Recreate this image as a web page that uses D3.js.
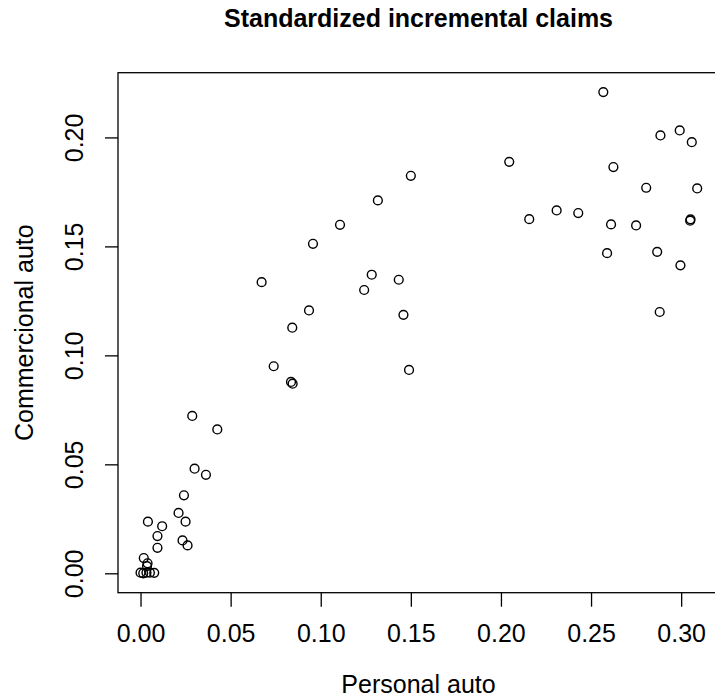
<!DOCTYPE html>
<html>
<head>
<meta charset="utf-8">
<script src="https://cdn.jsdelivr.net/npm/d3@7"></script>
<style>
  body { margin: 0; background: #fff; }
  svg { display: block; font-family: "Liberation Sans", Arial, sans-serif; }
</style>
</head>
<body>
<div id="chart_area"></div>
<script>
var width = 715
var height = 700

// plot region (box) and axis limits
var box = {left: 118, right: 719, top: 72.7, bottom: 592.7}
var xLim = [-0.0125, 0.321]
var yLim = [-0.0089, 0.2297]

// Data
var personalAuto = [
  0.1500, 0.1317, 0.1107, 0.0957, 0.0672, 0.1283, 0.1433, 0.1241, 0.0935, 0.0842,
  0.1459, 0.2568, 0.2885, 0.2992, 0.3059, 0.2046, 0.2624, 0.2806, 0.3089, 0.2157,
  0.2309, 0.2429, 0.2611, 0.2750, 0.3052, 0.3050, 0.2589, 0.2867, 0.2996, 0.2881,
  0.0739, 0.0835, 0.0844, 0.1490, 0.0287, 0.0426, 0.0300, 0.0363, 0.0241, 0.0211,
  0.0041, 0.0250, 0.0120, 0.0094, 0.0233, 0.0094, 0.0261, 0.0018, 0.0039, 0.0036,
  0.0000, 0.0015, 0.0033, 0.0052, 0.0076
]
var commercialAuto = [
  0.1824, 0.1711, 0.1599, 0.1512, 0.1336, 0.1370, 0.1347, 0.1300, 0.1206, 0.1127,
  0.1186, 0.2208, 0.2009, 0.2032, 0.1978, 0.1888, 0.1864, 0.1769, 0.1766, 0.1625,
  0.1665, 0.1653, 0.1601, 0.1596, 0.1624, 0.1618, 0.1469, 0.1475, 0.1413, 0.1199,
  0.0950, 0.0878, 0.0870, 0.0933, 0.0722, 0.0660, 0.0480, 0.0452, 0.0358, 0.0277,
  0.0237, 0.0237, 0.0216, 0.0171, 0.0151, 0.0117, 0.0128, 0.0070, 0.0046, 0.0033,
  0.0003, 0.0000, 0.0003, 0.0003, 0.0002
]
var xTicks = [0, 0.05, 0.10, 0.15, 0.20, 0.25, 0.30]
var yTicks = [0, 0.05, 0.10, 0.15, 0.20]

var title = "Standardized incremental claims"
var xTitle = "Personal auto"
var yTitle = "Commercional auto"

var points = personalAuto.map((d, i) => [d, commercialAuto[i]])

var svg = d3.select("#chart_area")
  .append("svg")
  .attr("width", width)
  .attr("height", height)

var x = d3.scaleLinear().domain(xLim).range([box.left, box.right])
var y = d3.scaleLinear().domain(yLim).range([box.bottom, box.top])

// axes
var xAxis = svg.append("g")
  .attr("transform", "translate(0," + box.bottom + ")")
  .call(d3.axisBottom(x).tickValues(xTicks).tickFormat(d3.format(".2f")).tickSize(14).tickSizeOuter(0))
xAxis.select(".domain").remove()
xAxis.selectAll(".tick line").attr("stroke", "#000").attr("stroke-width", 1.3)
xAxis.selectAll(".tick text")
  .attr("y", 49)
  .attr("dy", 0)
  .attr("fill", "#000")
  .style("font-size", "25px")

var yAxis = svg.append("g")
  .attr("transform", "translate(" + box.left + ",0)")
  .call(d3.axisLeft(y).tickValues(yTicks).tickFormat(d3.format(".2f")).tickSize(13).tickSizeOuter(0))
yAxis.select(".domain").remove()
yAxis.selectAll(".tick line").attr("stroke", "#000").attr("stroke-width", 1.3)
yAxis.selectAll(".tick text")
  .attr("x", 0)
  .attr("dy", 0)
  .attr("transform", "translate(-34.7,0) rotate(-90)")
  .attr("text-anchor", "middle")
  .attr("fill", "#000")
  .style("font-size", "25px")

// box
svg.append("rect")
  .attr("x", box.left)
  .attr("y", box.top)
  .attr("width", box.right - box.left)
  .attr("height", box.bottom - box.top)
  .attr("fill", "none")
  .attr("stroke", "#000")
  .attr("stroke-width", 1.3)

// points
svg.append("g")
  .selectAll("circle")
  .data(points)
  .join("circle")
  .attr("cx", d => x(d[0]))
  .attr("cy", d => y(d[1]))
  .attr("r", 4.4)
  .attr("fill", "none")
  .attr("stroke", "#000")
  .attr("stroke-width", 1.4)

// titles
svg.append("text")
  .attr("x", (box.left + box.right) / 2)
  .attr("y", 27)
  .attr("text-anchor", "middle")
  .style("font-size", "25px")
  .style("font-weight", "700")
  .text(title)

svg.append("text")
  .attr("x", (box.left + box.right) / 2)
  .attr("y", 693)
  .attr("text-anchor", "middle")
  .style("font-size", "25px")
  .text(xTitle)

svg.append("text")
  .attr("transform", "translate(33," + (box.top + box.bottom) / 2 + ") rotate(-90)")
  .attr("text-anchor", "middle")
  .style("font-size", "25px")
  .text(yTitle)
</script>
</body>
</html>
